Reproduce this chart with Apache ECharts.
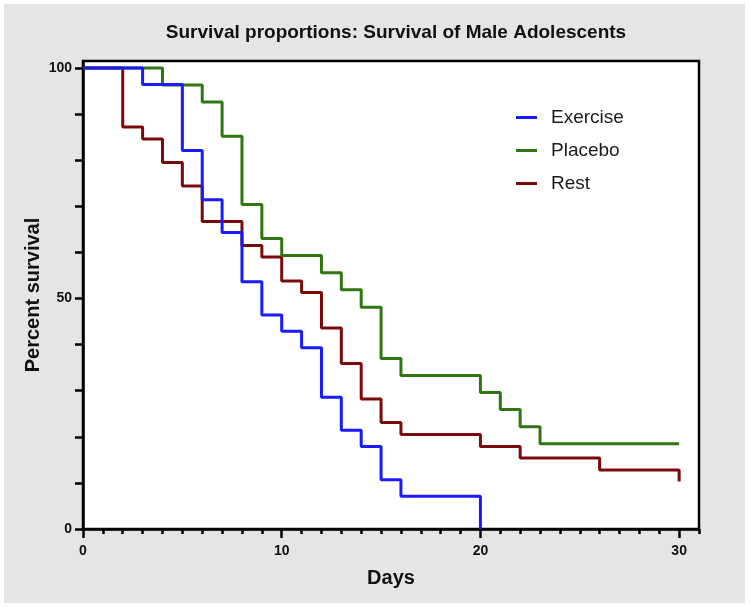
<!DOCTYPE html>
<html>
<head>
<meta charset="utf-8">
<script src="https://cdn.jsdelivr.net/npm/echarts@6/dist/echarts.min.js"></script>
<style>
html,body{margin:0;padding:0;background:#fff;}
#chart{width:750px;height:608px;}
</style>
</head>
<body>
<div id="chart"></div>
<script>
// ---- Data ----
const exerciseDays   = [0, 3, 5, 6, 7, 8, 9, 10, 11, 12, 13, 14, 15, 16, 20];
const exerciseValues = [100, 96.4, 82.1, 71.4, 64.3, 53.6, 46.4, 42.9, 39.3, 28.6, 21.4, 17.9, 10.7, 7.1, 0];

const placeboDays    = [0, 4, 6, 7, 8, 9, 10, 12, 13, 14, 15, 16, 20, 21, 22, 23, 30];
const placeboValues  = [100, 96.3, 92.6, 85.2, 70.4, 63.0, 59.3, 55.6, 51.9, 48.1, 37.0, 33.3, 29.6, 25.9, 22.2, 18.5, 18.5];

const restDays       = [0, 2, 3, 4, 5, 6, 8, 9, 10, 11, 12, 13, 14, 15, 16, 20, 22, 26, 30];
const restValues     = [100, 87.2, 84.6, 79.5, 74.4, 66.7, 61.5, 59.0, 53.8, 51.3, 43.6, 35.9, 28.2, 23.1, 20.5, 17.9, 15.4, 12.8, 10.3];

const seriesNames = ['Exercise', 'Placebo', 'Rest'];
const xMajorTicks = [0, 10, 20, 30];
const yTicks = [0, 10, 20, 30, 40, 50, 60, 70, 80, 90, 100];
const yLabels = [0, 50, 100];

function pairs(xs, ys) { return xs.map((x, i) => [x, ys[i]]); }

const FONT = "'Liberation Sans', Arial, Helvetica, sans-serif";
const chart = echarts.init(document.getElementById('chart'), null, {renderer: 'canvas'});

const option = {
  animation: false,
  backgroundColor: '#ffffff',
  graphic: [{
    type: 'rect', z: -10, silent: true,
    shape: {x: 4, y: 4, width: 741, height: 599},
    style: {fill: '#e5e5e5'}
  }],
  title: {
    text: 'Survival proportions: Survival of Male Adolescents',
    left: 391, top: 18, textAlign: 'center',
    textStyle: {fontFamily: FONT, fontWeight: 'bold', fontSize: 19, color: '#111'}
  },
  legend: {
    orient: 'vertical', left: 511, top: 103,
    data: seriesNames,
    icon: 'rect', itemWidth: 21, itemHeight: 3, itemGap: 14,
    textStyle: {fontFamily: FONT, fontSize: 19, color: '#1a1a1a', padding: [0, 0, 0, 9]}
  },
  grid: {
    left: 83, right: 51, top: 61, bottom: 79,
    show: true, backgroundColor: '#ffffff', borderColor: '#000', borderWidth: 2.5,
    containLabel: false
  },
  xAxis: [{
    type: 'value', min: 0, max: 31, interval: 10, position: 'bottom',
    name: 'Days', nameLocation: 'middle', nameGap: 39, nameMoveOverlap: false,
    nameTextStyle: {fontFamily: FONT, fontWeight: 'bold', fontSize: 20, color: '#111'},
    axisLine: {show: true, lineStyle: {color: '#000', width: 2.5}},
    axisTick: {show: true, length: 9, lineStyle: {color: '#000', width: 2.5}, customValues: xMajorTicks},
    axisLabel: {fontFamily: FONT, fontWeight: 'bold', fontSize: 14, color: '#111', margin: 15, customValues: xMajorTicks},
    splitLine: {show: false}
  }, {
    type: 'value', min: 0, max: 31, interval: 1, position: 'bottom',
    axisLine: {show: false},
    axisTick: {show: true, length: 5, lineStyle: {color: '#000', width: 2.5}},
    axisLabel: {show: false},
    splitLine: {show: false}
  }],
  yAxis: [{
    type: 'value', min: 0, max: 101.5, interval: 10,
    name: 'Percent survival', nameLocation: 'middle', nameGap: 40, nameMoveOverlap: false,
    nameTextStyle: {fontFamily: FONT, fontWeight: 'bold', fontSize: 20, color: '#111'},
    axisLine: {show: true, lineStyle: {color: '#000', width: 2.5}},
    axisTick: {show: true, length: 8, lineStyle: {color: '#000', width: 2.5}, customValues: yTicks},
    axisLabel: {fontFamily: FONT, fontWeight: 'bold', fontSize: 14, color: '#111', margin: 11, customValues: yLabels},
    splitLine: {show: false}
  }],
  series: [{
    name: 'Exercise', type: 'line', step: 'end', showSymbol: false, z: 5,
    data: pairs(exerciseDays, exerciseValues),
    itemStyle: {color: '#1a1aff'},
    lineStyle: {color: '#1a1aff', width: 3}
  }, {
    name: 'Placebo', type: 'line', step: 'end', showSymbol: false, z: 4,
    data: pairs(placeboDays, placeboValues),
    itemStyle: {color: '#2f7510'},
    lineStyle: {color: '#2f7510', width: 3}
  }, {
    name: 'Rest', type: 'line', step: 'end', showSymbol: false, z: 3,
    data: pairs(restDays, restValues),
    itemStyle: {color: '#7a0a0a'},
    lineStyle: {color: '#7a0a0a', width: 3}
  }]
};
chart.setOption(option);
</script>
</body>
</html>
